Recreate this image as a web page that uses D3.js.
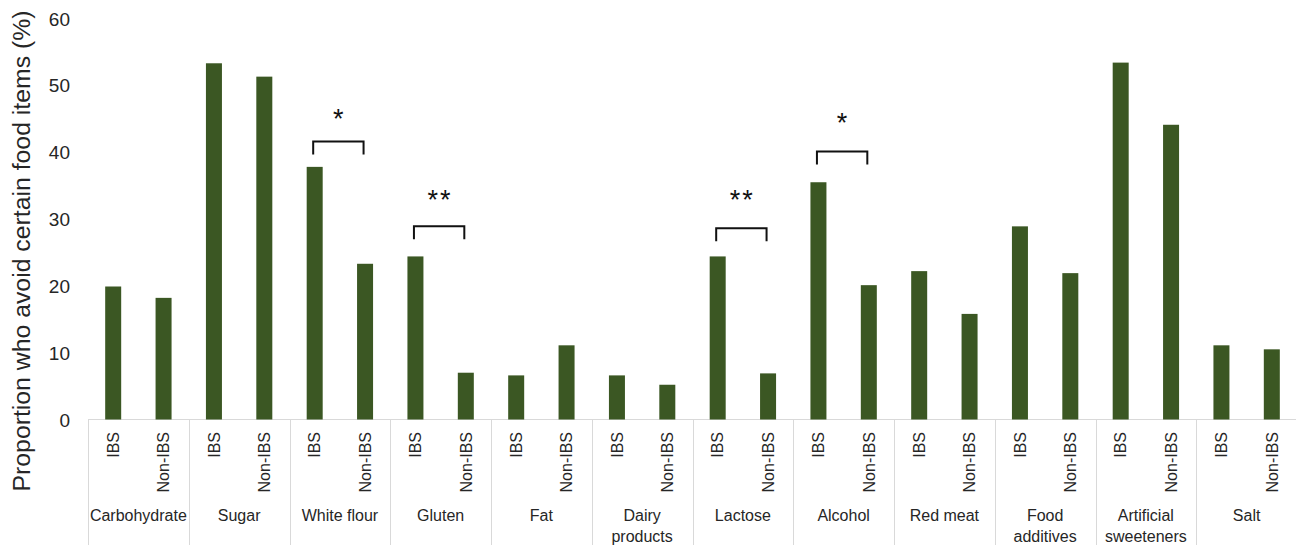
<!DOCTYPE html>
<html>
<head>
<meta charset="utf-8">
<script src="https://cdn.jsdelivr.net/npm/d3@7"></script>
<style>
  html, body { margin: 0; padding: 0; background: #fff; }
  svg text { font-family: "Liberation Sans", Arial, sans-serif; fill: #262626; }
</style>
</head>
<body>
<svg id="chart" width="1296" height="545"></svg>
<script>
// ---- data ----
const categories = ["Carbohydrate", "Sugar", "White flour", "Gluten", "Fat", "Dairy products",
  "Lactose", "Alcohol", "Red meat", "Food additives", "Artificial sweeteners", "Salt"];
const categoryLines = [["Carbohydrate"], ["Sugar"], ["White flour"], ["Gluten"], ["Fat"], ["Dairy", "products"],
  ["Lactose"], ["Alcohol"], ["Red meat"], ["Food", "additives"], ["Artificial", "sweeteners"], ["Salt"]];
const groups = ["IBS", "Non-IBS"];
const ibsValues    = [19.9, 53.3, 37.8, 24.4, 6.6, 6.6, 24.4, 35.5, 22.2, 28.9, 53.4, 11.1];
const nonIbsValues = [18.2, 51.3, 23.3, 7.0, 11.1, 5.2, 6.9, 20.1, 15.8, 21.9, 44.1, 10.5];
const yTicks = [0, 10, 20, 30, 40, 50, 60];
const yTitle = "Proportion who avoid certain food items (%)";
// significance annotations: category, bracket level (%), star level (%), label
const sigCategories = ["White flour", "Gluten", "Lactose", "Alcohol"];
const sigBracketLevels = [41.6, 28.9, 28.6, 40.1];
const sigStarLevels = [45.8, 33.7, 33.7, 45.2];
const sigLabels = ["*", "**", "**", "*"];

// ---- layout ----
const svg = d3.select("#chart");
const x0 = d3.scaleBand().domain(categories).range([88, 1297]).paddingInner(0).paddingOuter(0);
const x1 = d3.scaleBand().domain(groups).range([0, x0.bandwidth()]);
const y = d3.scaleLinear().domain([0, 60]).range([419.5, 18.5]);
const barW = 16;
const barColor = "#3b5723";

const rows = [];
categories.forEach((c, i) => {
  rows.push({cat: c, grp: "IBS", v: ibsValues[i]});
  rows.push({cat: c, grp: "Non-IBS", v: nonIbsValues[i]});
});
const cx = d => x0(d.cat) + x1(d.grp) + x1.bandwidth() / 2;

// baseline axis line
svg.append("line")
  .attr("x1", x0.range()[0]).attr("x2", x0.range()[1])
  .attr("y1", y(0)).attr("y2", y(0))
  .attr("stroke", "#d9d9d9").attr("stroke-width", 1);

// category separators
const seps = categories.map(c => x0(c)).concat([x0.range()[1] - 1.5]);
svg.selectAll("line.sep").data(seps).enter().append("line")
  .attr("class", "sep")
  .attr("x1", d => Math.round(d) + 0.5).attr("x2", d => Math.round(d) + 0.5)
  .attr("y1", y(0)).attr("y2", 545)
  .attr("stroke", "#d9d9d9").attr("stroke-width", 1);

// bars
svg.selectAll("rect.bar").data(rows).enter().append("rect")
  .attr("class", "bar")
  .attr("x", d => cx(d) - barW / 2)
  .attr("width", barW)
  .attr("y", d => y(d.v))
  .attr("height", d => y(0) - y(d.v))
  .attr("fill", barColor);

// y axis tick labels
const yAxis = d3.axisLeft(y).tickValues(yTicks).tickSize(0).tickPadding(0);
const yg = svg.append("g").attr("transform", "translate(70,0)").call(yAxis);
yg.select(".domain").remove();
yg.selectAll("text")
  .style("font-size", "19px")
  .style("font-family", '"Liberation Sans", Arial, sans-serif')
  .attr("fill", "#262626")
  .attr("dy", "0.35em");

// y title
svg.append("text")
  .attr("transform", "translate(30,251) rotate(-90)")
  .attr("text-anchor", "middle")
  .style("font-size", "24.8px")
  .text(yTitle);

// group labels (rotated)
svg.selectAll("text.grp").data(rows).enter().append("text")
  .attr("class", "grp")
  .attr("transform", d => `translate(${cx(d)},432) rotate(-90)`)
  .attr("text-anchor", "end")
  .attr("dy", "0.36em")
  .style("font-size", "16px")
  .text(d => d.grp);

// category labels
categories.forEach((c, i) => {
  const t = svg.append("text")
    .attr("x", x0(c) + x0.bandwidth() / 2)
    .attr("y", 521)
    .attr("text-anchor", "middle")
    .style("font-size", "16px");
  categoryLines[i].forEach((line, j) => {
    t.append("tspan")
      .attr("x", x0(c) + x0.bandwidth() / 2)
      .attr("dy", j === 0 ? 0 : 21)
      .text(line);
  });
});

// significance brackets
sigCategories.forEach((c, i) => {
  const xa = x0(c) + x1("IBS") + x1.bandwidth() / 2 - 1.5;
  const xb = x0(c) + x1("Non-IBS") + x1.bandwidth() / 2 - 1.5;
  const yb = y(sigBracketLevels[i]);
  svg.append("path")
    .attr("d", `M${xa},${yb + 13}V${yb}H${xb}V${yb + 13}`)
    .attr("fill", "none")
    .attr("stroke", "#111")
    .attr("stroke-width", 2);
  svg.append("text")
    .attr("x", (xa + xb) / 2 + (sigLabels[i].length > 1 ? 1 : 0))
    .attr("y", y(sigStarLevels[i]))
    .attr("dy", "0.55em")
    .attr("text-anchor", "middle")
    .style("font-size", "27px")
    .style("fill", "#111")
    .style("letter-spacing", sigLabels[i].length > 1 ? "2px" : "0px")
    .text(sigLabels[i]);
});
</script>
</body>
</html>
